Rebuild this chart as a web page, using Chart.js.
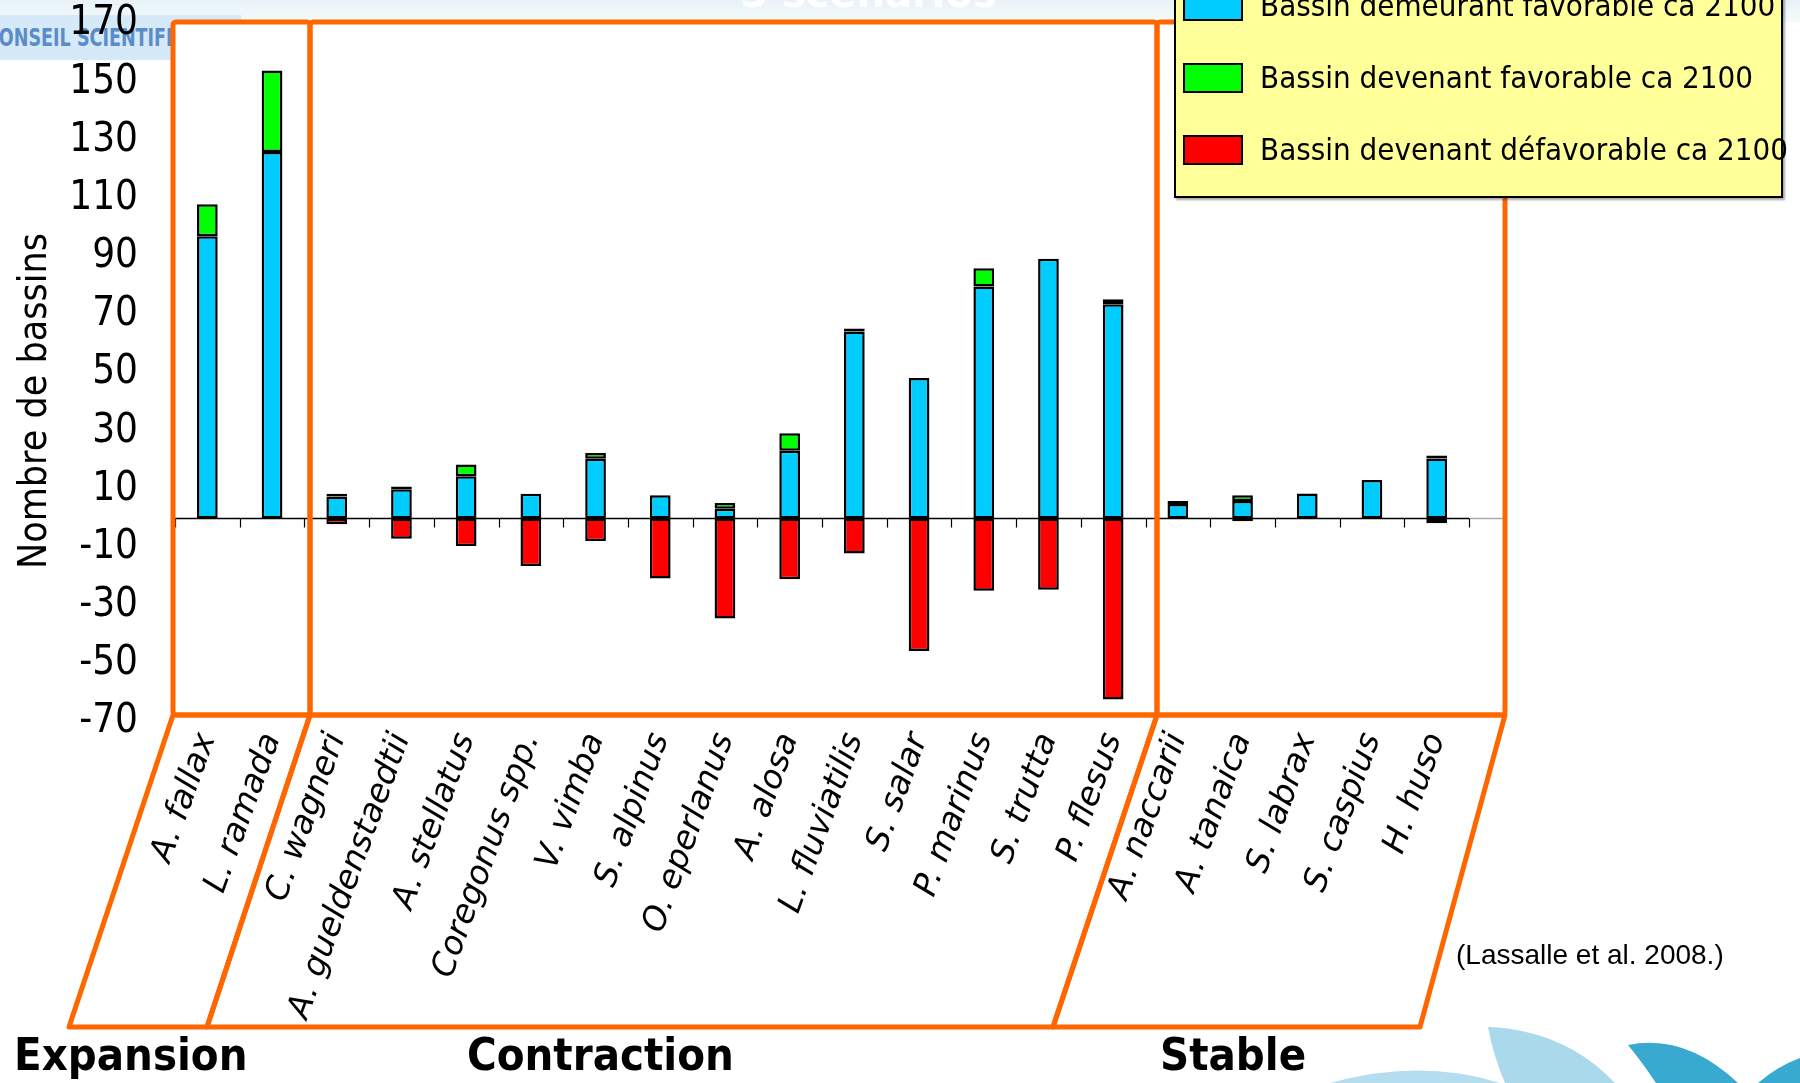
<!DOCTYPE html>
<html>
<head>
<meta charset="utf-8">
<script src="https://cdn.jsdelivr.net/npm/chart.js@4.4.0/dist/chart.umd.min.js"></script>
<style>
    html, body { margin: 0; padding: 0; background: #fff; }
    #wrap { position: relative; width: 1800px; height: 1083px; overflow: hidden;
            font-family: "DejaVu Sans Condensed", "DejaVu Sans", sans-serif; }
    #wrap > * { position: absolute; }
    #topband { left: 0; top: 0; width: 1800px; height: 22px; z-index: 1;
               background: linear-gradient(#e8f3f8, #f4fafa); }
    #conseil { left: 0; top: 15px; width: 241px; height: 45px; z-index: 1; background: #d6e9f8; overflow: hidden; }
    #conseil span { position: absolute; left: -14px; top: 8px; font-weight: bold; font-size: 25px;
                    color: #5a8cc8; white-space: nowrap; transform: scaleX(0.78); transform-origin: 0 0; }
    #slideTitle { left: 740px; top: -30px; z-index: 1; font-family: "DejaVu Sans", sans-serif;
                  font-weight: bold; font-size: 40px; color: #fff; white-space: nowrap; }
    #fills { left: 0; top: 0; z-index: 2; }
    #c { left: 0; top: 0; z-index: 3; }
    #strokes { left: 0; top: 0; z-index: 4; }
    #ytitle { left: 32px; top: 401px; z-index: 5; font-size: 39px; white-space: nowrap;
              transform: translate(-50%, -50%) rotate(-90deg); }
    .section { z-index: 5; top: 1032px; font-weight: bold; font-size: 45px; line-height: 45px; white-space: nowrap; }
    #source { left: 1456px; top: 941px; z-index: 5; font-family: "Liberation Sans", sans-serif;
              font-size: 28px; line-height: 28px; white-space: nowrap; }
    #legend { left: 1174px; top: -30px; width: 605px; height: 224px; z-index: 6;
              background: #ffff99; border: 2px solid #000; box-shadow: 2px 2px 2px rgba(0,0,0,0.35); }
    .lgItem { position: absolute; left: 7px; height: 30px; white-space: nowrap; }
    .lgBox { position: absolute; left: 0; top: 0; width: 56px; height: 26px; border: 2px solid #000; }
    .lgText { position: absolute; left: 77px; top: -4px; font-size: 31px; line-height: 36px; }
</style>
</head>
<body>
<div id="wrap">
    <div id="topband"></div>
    <div id="conseil"><span>CONSEIL SCIENTIFIQUE</span></div>
    <div id="slideTitle">5 scénarios</div>
    <svg id="fills" width="1800" height="1083"></svg>
    <canvas id="c" width="1800" height="1083"></canvas>
    <svg id="strokes" width="1800" height="1083"></svg>
    <div id="ytitle">Nombre de bassins</div>
    <div class="section" style="left:14px">Expansion</div>
    <div class="section" style="left:467px">Contraction</div>
    <div class="section" style="left:1160px">Stable</div>
    <div id="source">(Lassalle et al. 2008.)</div>
    <div id="legend"></div>
</div>
<script>
// espèces (catégories de l'axe x)
const species = [
    "A. fallax", "L. ramada", "C. wagneri", "A. gueldenstaedtii", "A. stellatus",
    "Coregonus spp.", "V. vimba", "S. alpinus", "O. eperlanus", "A. alosa",
    "L. fluviatilis", "S. salar", "P. marinus", "S. trutta", "P. flesus",
    "A. naccarii", "A. tanaica", "S. labrax", "S. caspius", "H. huso"
];

// nombre de bassins
const remainFavourable = [97, 126, 7.5, 10, 14.5, 8.5, 20.5, 8, 3.3, 23.3, 64.3, 48.3, 79.7, 89.3, 73.6, 5, 6, 8.6, 13.2, 20.6];
const becomeFavourable = [11, 28, 1, 1, 4, 0, 2, 0, 2, 6, 1, 0, 6.3, 0, 1.8, 1, 2, 0, 0, 1];
const becomeUnfavourable = [0, 0, -2, -7, -9.5, -16.4, -7.8, -20.7, -34.4, -20.9, -12.1, -45.6, -24.9, -24.5, -62.3, 0, -1, 0, 0, -1.7];

const seriesLabels = [
    "Bassin demeurant favorable ca 2100",
    "Bassin devenant favorable ca 2100",
    "Bassin devenant défavorable ca 2100"
];
const seriesColors = ["#00ccff", "#00ff00", "#ff0000"];

const yTicks = [-70, -50, -30, -10, 10, 30, 50, 70, 90, 110, 130, 150, 170];

// cadres orange (Expansion / Contraction / Stable)
const upperBoxes = [[173, 310], [310, 1157], [1157, 1505]];
const lowerBoxes = [
    [[173, 715], [310, 715], [207, 1027], [69, 1027]],
    [[310, 715], [1157, 715], [1053, 1027], [207, 1027]],
    [[1157, 715], [1505, 715], [1420, 1027], [1053, 1027]]
];

function drawFrames() {
    const ns = 'http://www.w3.org/2000/svg';
    const fills = document.getElementById('fills');
    const strokes = document.getElementById('strokes');
    const orange = '#ff6600';
    upperBoxes.forEach(b => {
        [fills, strokes].forEach((svg, k) => {
            const r = document.createElementNS(ns, 'rect');
            r.setAttribute('x', b[0]); r.setAttribute('y', 22);
            r.setAttribute('width', b[1] - b[0]); r.setAttribute('height', 715 - 22);
            r.setAttribute('rx', 3);
            r.setAttribute('fill', k === 0 ? '#fff' : 'none');
            if (k === 1) { r.setAttribute('stroke', orange); r.setAttribute('stroke-width', 5); }
            svg.appendChild(r);
        });
    });
    lowerBoxes.forEach(pts => {
        const p = document.createElementNS(ns, 'polygon');
        p.setAttribute('points', pts.map(q => q.join(',')).join(' '));
        p.setAttribute('fill', 'none');
        p.setAttribute('stroke', orange);
        p.setAttribute('stroke-width', 5);
        p.setAttribute('stroke-linejoin', 'round');
        strokes.appendChild(p);
    });
    // logo en bas à droite
    const logo = [
        ['M1330,1083 Q1420,1058 1500,1083 Z', '#b4def0'],
        ['M1488,1027 Q1565,1030 1615,1083 L1505,1083 Q1493,1055 1488,1027 Z', '#a9d9ea'],
        ['M1628,1045 Q1685,1033 1738,1083 L1656,1083 Q1642,1062 1628,1045 Z', '#38a9cf'],
        ['M1758,1083 Q1778,1066 1800,1058 L1800,1083 Z', '#38a9cf']
    ];
    logo.forEach(l => {
        const p = document.createElementNS(ns, 'path');
        p.setAttribute('d', l[0]);
        p.setAttribute('fill', l[1]);
        fills.appendChild(p);
    });
}

function drawLegend() {
    const legend = document.getElementById('legend');
    const centers = [6, 78, 150];
    seriesLabels.forEach((label, i) => {
        const item = document.createElement('div');
        item.className = 'lgItem';
        item.style.top = (centers[i] - 15 + 30 - 2) + 'px';
        item.innerHTML = '<div class="lgBox" style="background:' + seriesColors[i] + '"></div>' +
                         '<div class="lgText">' + label + '</div>';
        legend.appendChild(item);
    });
}

// ligne du zéro avec graduations entre les catégories
const zeroLinePlugin = {
    id: 'zeroLine',
    beforeDatasetsDraw(chart) {
        const { ctx, chartArea, scales: { x, y } } = chart;
        const y0 = Math.round(y.getPixelForValue(0)) + 0.5;
        const step = x.getPixelForValue(1) - x.getPixelForValue(0);
        ctx.save();
        ctx.strokeStyle = '#000';
        ctx.lineWidth = 1.5;
        ctx.beginPath();
        ctx.moveTo(chartArea.left, y0);
        ctx.lineTo(chartArea.right, y0);
        ctx.stroke();
        ctx.strokeStyle = '#aaa';
        ctx.beginPath();
        ctx.moveTo(chartArea.right, y0);
        ctx.lineTo(chartArea.right + 34, y0);
        ctx.stroke();
        ctx.strokeStyle = '#000';
        ctx.lineWidth = 1.2;
        for (let i = 0; i <= species.length; i++) {
            const px = Math.round(x.getPixelForValue(0) - step / 2 + i * step) + 0.5;
            ctx.beginPath();
            ctx.moveTo(px, y0);
            ctx.lineTo(px, y0 + 9);
            ctx.stroke();
        }
        ctx.restore();
    }
};

const seriesData = [remainFavourable, becomeFavourable, becomeUnfavourable];

new Chart(document.getElementById('c').getContext('2d'), {
    type: 'bar',
    data: {
        labels: species,
        datasets: seriesLabels.map((label, i) => ({
            label: label,
            data: seriesData[i],
            backgroundColor: seriesColors[i],
            borderColor: '#000',
            borderWidth: 2.5,
            borderSkipped: false,
            barPercentage: 0.32,
            categoryPercentage: 1
        }))
    },
    options: {
        responsive: false,
        animation: false,
        devicePixelRatio: 1,
        layout: { padding: { top: 22, right: 331, left: 0, bottom: 0 } },
        plugins: { legend: { display: false }, tooltip: { enabled: false } },
        scales: {
            x: {
                stacked: true,
                grid: { display: false, drawTicks: false },
                border: { display: false },
                ticks: {
                    autoSkip: false, minRotation: 70, maxRotation: 70, padding: 6, color: '#000',
                    font: { family: 'DejaVu Sans', style: 'italic', size: 33 }
                },
                afterFit: s => { s.height = 361; }
            },
            y: {
                stacked: true,
                min: -70, max: 170,
                // décalage des étiquettes par la longueur de graduation (non dessinée)
                grid: { display: false, drawTicks: true, tickLength: 37 },
                border: { display: false },
                ticks: {
                    padding: 0, color: '#000',
                    font: { family: 'DejaVu Sans Condensed', size: 40 }
                },
                afterBuildTicks: s => { s.ticks = yTicks.map(v => ({ value: v })); },
                afterFit: s => { s.width = 175; }
            }
        }
    },
    plugins: [zeroLinePlugin]
});

drawFrames();
drawLegend();
</script>
</body>
</html>
